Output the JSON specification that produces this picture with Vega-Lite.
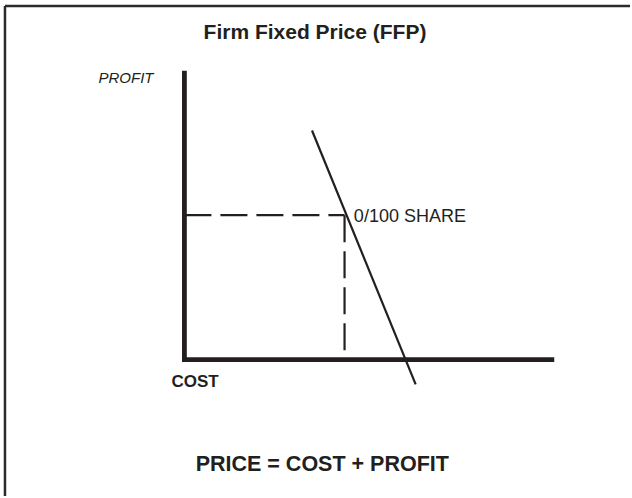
{
  "$schema": "https://vega.github.io/schema/vega-lite/v6.json",
  "width": 632,
  "height": 498,
  "autosize": {"type": "fit", "contains": "padding"},
  "padding": 0,
  "background": "white",
  "config": {"view": {"stroke": null}},
  "datasets": {
    "border": [
      {"x": -48.52, "y": 122.41, "x2": 120.49, "y2": 122.41},
      {"x": -48.52, "y": 122.41, "x2": -48.52, "y2": -47.24}
    ],
    "axes": [
      {"x": 0, "y": -0.86, "x2": 0, "y2": 100},
      {"x": -0.62, "y": 0, "x2": 100, "y2": 0}
    ],
    "dashed": [
      {"x": 0, "y": 50, "x2": 43.3, "y2": 50},
      {"x": 43.3, "y": 50, "x2": 43.3, "y2": 0}
    ],
    "share": [
      {"x": 34.5, "y": 79.31, "x2": 62.53, "y2": -8.62}
    ],
    "title": [{"x": 35.31, "y": 111.03, "label": "Firm Fixed Price (FFP)"}],
    "profit": [{"x": -8.36, "y": 95.86, "label": "PROFIT"}],
    "cost": [{"x": -3.5, "y": -9.66, "label": "COST"}],
    "shareLabel": [{"x": 45.82, "y": 47.69, "label": "0/100 SHARE"}],
    "formula": [{"x": 37.28, "y": -38.62, "label": "PRICE = COST + PROFIT"}]
  },
  "encoding": {
    "x": {"field": "x", "type": "quantitative", "scale": {"domain": [-49.865, 120.485], "nice": false, "zero": false}, "axis": null},
    "y": {"field": "y", "type": "quantitative", "scale": {"domain": [-47.24, 124.48], "nice": false, "zero": false}, "axis": null}
  },
  "layer": [
    {
      "data": {"name": "border"},
      "mark": {"type": "rule", "color": "#2b2b2b", "strokeWidth": 2.5},
      "encoding": {"x2": {"field": "x2"}, "y2": {"field": "y2"}}
    },
    {
      "data": {"name": "axes"},
      "mark": {"type": "rule", "color": "#231f20", "strokeWidth": 4.8},
      "encoding": {"x2": {"field": "x2"}, "y2": {"field": "y2"}}
    },
    {
      "data": {"name": "dashed"},
      "mark": {"type": "rule", "color": "#231f20", "strokeWidth": 2.2, "strokeDash": [27, 9]},
      "encoding": {"x2": {"field": "x2"}, "y2": {"field": "y2"}}
    },
    {
      "data": {"name": "share"},
      "mark": {"type": "rule", "color": "#231f20", "strokeWidth": 2.2},
      "encoding": {"x2": {"field": "x2"}, "y2": {"field": "y2"}}
    },
    {
      "data": {"name": "title"},
      "mark": {"type": "text", "font": "Liberation Sans", "fontWeight": "bold", "fontSize": 21, "align": "center", "baseline": "alphabetic", "color": "#231f20"},
      "encoding": {"text": {"field": "label"}}
    },
    {
      "data": {"name": "profit"},
      "mark": {"type": "text", "font": "Liberation Sans", "fontStyle": "italic", "fontSize": 15, "align": "right", "baseline": "alphabetic", "color": "#231f20"},
      "encoding": {"text": {"field": "label"}}
    },
    {
      "data": {"name": "cost"},
      "mark": {"type": "text", "font": "Liberation Sans", "fontWeight": "bold", "fontSize": 17, "align": "left", "baseline": "alphabetic", "color": "#231f20"},
      "encoding": {"text": {"field": "label"}}
    },
    {
      "data": {"name": "shareLabel"},
      "mark": {"type": "text", "font": "Liberation Sans", "fontSize": 18, "align": "left", "baseline": "alphabetic", "color": "#231f20"},
      "encoding": {"text": {"field": "label"}}
    },
    {
      "data": {"name": "formula"},
      "mark": {"type": "text", "font": "Liberation Sans", "fontWeight": "bold", "fontSize": 21.5, "align": "center", "baseline": "alphabetic", "color": "#231f20"},
      "encoding": {"text": {"field": "label"}}
    }
  ]
}
